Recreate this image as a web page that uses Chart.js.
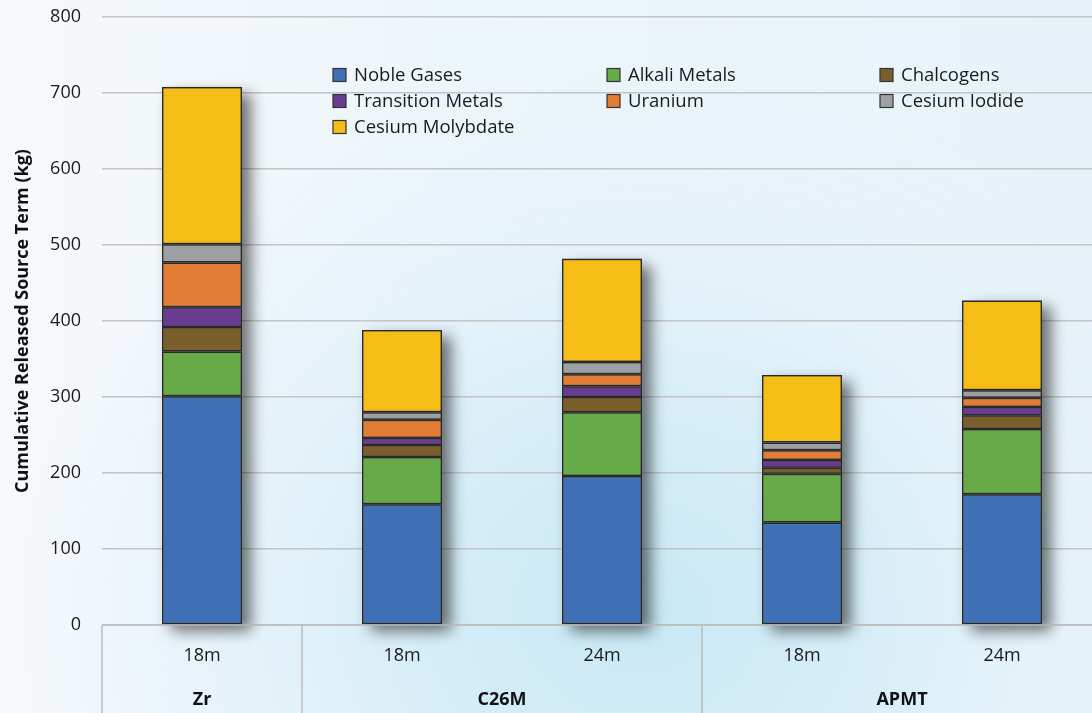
<!DOCTYPE html>
<html><head><meta charset="utf-8">
<script src="https://cdn.jsdelivr.net/npm/chart.js@4.4.0/dist/chart.umd.min.js"></script>
<style>
html,body{margin:0;padding:0;overflow:hidden;width:1092px;height:713px;}
body{background:
 radial-gradient(ellipse 620px 540px at 640px 610px, #c8e8f5 0%, #d6eef8 35%, #e6f3fa 65%, rgba(240,247,252,0) 100%),
 linear-gradient(90deg, #f6f9fc 0%, #ebf5fa 50%, #e8f3f9 100%);}
#wrap{position:absolute;left:0;top:0;width:1102px;height:713px;}
</style></head><body><div id="wrap"><canvas id="c"></canvas></div>
<script>
const categories = ['18m','18m','24m','18m','24m'];
const groupNames = ['Zr','C26M','APMT'];
const groupSpans = [[0,0],[1,2],[3,4]];
const seriesNames = ['Noble Gases','Alkali Metals','Chalcogens','Transition Metals','Uranium','Cesium Iodide','Cesium Molybdate'];
const seriesColors = ['#4071b7','#67ab49','#7a5e2b','#6a3b92','#e37c35','#9ea1a4','#f6bd17'];
const nobleGases       = [301,159,196,135,172];
const alkaliMetals     = [59, 62, 84, 64, 86];
const chalcogens       = [32, 16, 20,  8, 18];
const transitionMetals = [26,  9, 14, 10, 11];
const uranium          = [59, 24, 16, 13, 12];
const cesiumIodide     = [24, 10, 16, 10, 10];
const cesiumMolybdate  = [207,108,136,89,118];
const seriesValues = [nobleGases, alkaliMetals, chalcogens, transitionMetals, uranium, cesiumIodide, cesiumMolybdate];
const yMin = 0, yMax = 800, yStep = 100;
const yTitle = 'Cumulative Released Source Term (kg)';

const FONT = '"Open Sans", "Liberation Sans", sans-serif';
const legendCols = [333, 607, 880];
const legendRows = [75, 101, 127];

const decor = {
  id: 'decor',
  beforeDatasetsDraw(chart) {
    const ctx = chart.ctx;
    const first = chart.getDatasetMeta(0), last = chart.getDatasetMeta(chart.data.datasets.length - 1);
    ctx.save();
    ctx.shadowColor = 'rgba(0,0,0,0.55)';
    ctx.shadowBlur = 14;
    ctx.shadowOffsetX = 9;
    ctx.shadowOffsetY = 7;
    ctx.fillStyle = '#666';
    first.data.forEach((el, i) => {
      const top = last.data[i].y, base = el.base, w = el.width;
      ctx.fillRect(el.x - w / 2, top, w, base - top);
    });
    ctx.restore();
  },
  afterDraw(chart) {
    const ctx = chart.ctx, ca = chart.chartArea, xs = chart.scales.x;
    const H = chart.height;
    ctx.save();
    ctx.strokeStyle = '#bdbdbd';
    ctx.lineWidth = 1.5;
    ctx.beginPath(); ctx.moveTo(ca.left, ca.bottom); ctx.lineTo(ca.right, ca.bottom); ctx.stroke();
    const seps = [ca.left];
    for (let g = 1; g < groupSpans.length; g++) {
      seps.push((xs.getPixelForValue(groupSpans[g-1][1]) + xs.getPixelForValue(groupSpans[g][0])) / 2);
    }
    seps.forEach(x => { ctx.beginPath(); ctx.moveTo(x, ca.bottom); ctx.lineTo(x, H); ctx.stroke(); });
    ctx.fillStyle = '#111';
    ctx.font = 'bold 18px ' + FONT;
    ctx.textAlign = 'center'; ctx.textBaseline = 'middle';
    groupSpans.forEach((s, g) => {
      const x = (xs.getPixelForValue(s[0]) + xs.getPixelForValue(s[1])) / 2;
      ctx.fillText(groupNames[g], x, 700);
    });
    ctx.font = '18.5px ' + FONT;
    ctx.textAlign = 'left';
    chart.data.datasets.forEach((ds, i) => {
      const x = legendCols[i % 3], y = legendRows[Math.floor(i / 3)];
      ctx.fillStyle = ds.backgroundColor;
      ctx.fillRect(x, y - 6.5, 13, 13);
      ctx.strokeStyle = '#333'; ctx.lineWidth = 1.2;
      ctx.strokeRect(x, y - 6.5, 13, 13);
      ctx.fillStyle = '#1a1a1a';
      ctx.fillText(ds.label, x + 21, y + 0.5);
    });
    ctx.restore();
  }
};

new Chart(document.getElementById('c'), {
  type: 'bar',
  data: {
    labels: categories,
    datasets: seriesNames.map((n, i) => ({
      label: n,
      data: seriesValues[i],
      backgroundColor: seriesColors[i],
      borderColor: '#2a2a2a',
      borderWidth: 1.5,
      borderSkipped: false,
      barPercentage: 0.4,
      categoryPercentage: 1.0
    }))
  },
  options: {
    responsive: true,
    maintainAspectRatio: false,
    animation: false,
    layout: { padding: { top: 17, left: 0, right: 0, bottom: 0 } },
    plugins: { legend: { display: false }, tooltip: { enabled: false } },
    scales: {
      x: {
        stacked: true,
        grid: { display: false, drawTicks: false },
        border: { display: false },
        ticks: { font: { size: 18, family: FONT }, color: '#1a1a1a', padding: 20 },
        afterFit(s) { s.height = 88; s.paddingLeft = 0; s.paddingRight = 0; }
      },
      y: {
        stacked: true,
        min: yMin, max: yMax,
        grid: { color: '#c4c4c4', lineWidth: 1.5, drawTicks: false },
        border: { display: false },
        ticks: { stepSize: yStep, font: { size: 18, family: FONT }, color: '#1a1a1a', padding: 21 },
        title: { display: true, text: yTitle, font: { size: 18, weight: 'bold', family: FONT }, color: '#111', padding: { top: 12, bottom: 0 } },
        afterFit(s) { s.width = 102; s.paddingTop = 0; s.paddingBottom = 0; }
      }
    }
  },
  plugins: [decor]
});
</script></body></html>
